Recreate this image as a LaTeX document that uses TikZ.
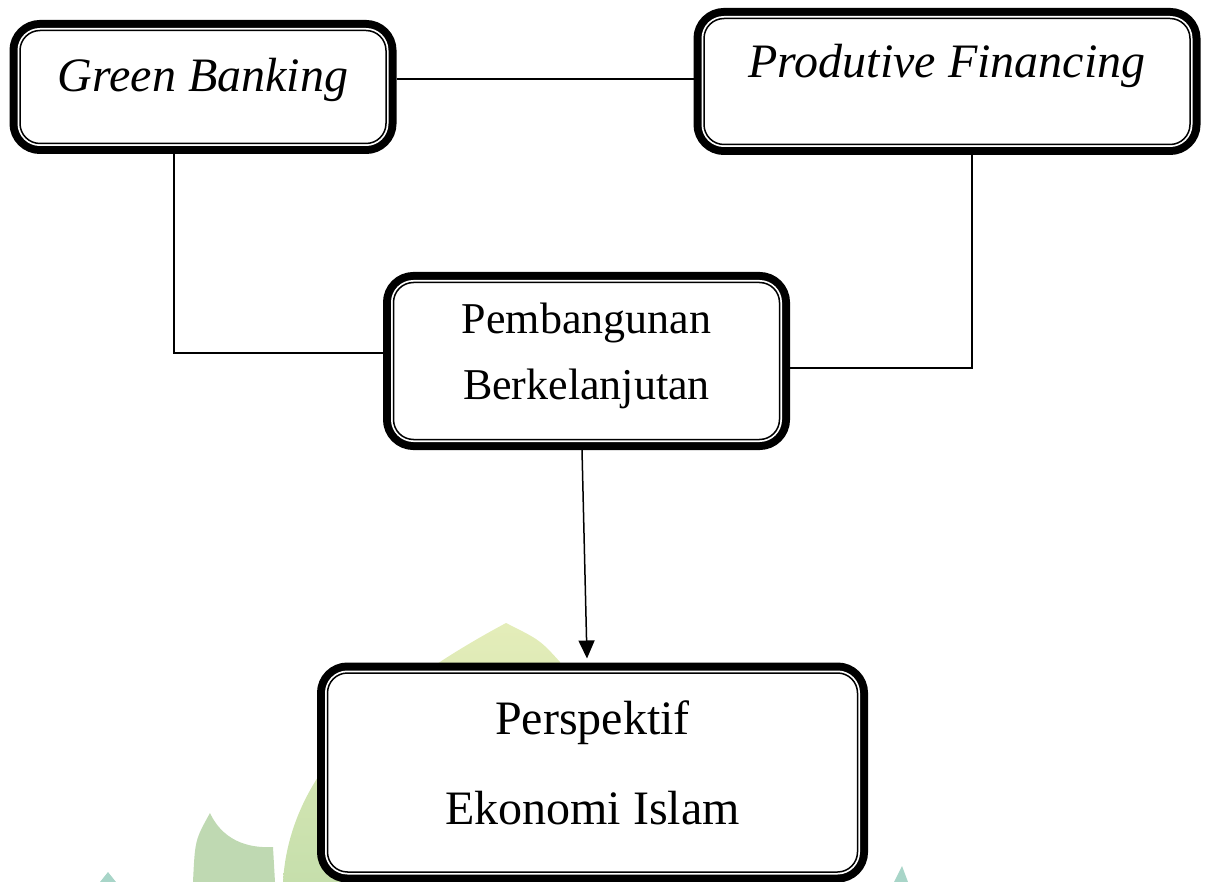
\documentclass[tikz,border=0pt]{standalone}
\usepackage{fontspec}
\setmainfont{Liberation Serif}
\usetikzlibrary{arrows.meta,positioning,calc}

\definecolor{leafyellow}{HTML}{E4EDB9}
\definecolor{leafgreen}{HTML}{C6DFAC}
\definecolor{leafmid}{HTML}{BFD9B2}
\definecolor{leafteal}{HTML}{A8D5C8}

% extra depth under the last line of a box
\newcommand{\lowdepth}[1]{\rule[-#1]{0pt}{1pt}}

\begin{document}
\begin{tikzpicture}[
  x=0.5pt, y=-0.5pt,
  frame/.style={draw, rounded corners=10pt, line width=0.75pt, inner sep=0pt, outer sep=5.25pt, align=center,
    preaction={draw, line width=10.5pt},
    preaction={fill=white},
    preaction={draw=white, line width=2.5pt}},
  topfont/.style={font=\fontsize{24}{29}\selectfont\itshape},
  link/.style={line width=0.75pt},
  arrow/.style={link, -{Triangle[length=9pt, width=8pt]}}
]
\useasboundingbox (0,0) rectangle (1211,882);

% faint watermark behind the boxes
\shade[top color=leafyellow, bottom color=leafgreen] (506,623) .. controls (400,680) and (290,760) .. (283,882) -- (560,882) -- (560,662) .. controls (540,640) .. (506,623) -- cycle;
\fill[leafmid] (210,813) .. controls (225,845) and (255,848) .. (273,847) -- (275,882) -- (193,882) .. controls (195,840) .. (210,813) -- cycle;
\fill[leafteal] (108,872) -- (116,882) -- (100,882) -- cycle;
\fill[leafteal] (902,866) -- (908,882) -- (894,882) -- cycle;

\node[frame, topfont, minimum width=183pt, minimum height=56.5pt, text height=16.5pt, text depth=11.5pt] (green) at (203,87) {Green Banking};
\node[frame, topfont, minimum width=243pt, minimum height=63pt, text height=16.5pt, text depth=20pt] (produktif) at (947,81.5) {Produtive Financing};
\node[frame, font=\fontsize{22}{33}\selectfont, minimum width=193pt, minimum height=78.5pt] (pembangunan) at (586.5,361) {Pembangunan\\Berkelanjutan\lowdepth{10pt}};
\node[frame, font=\fontsize{24}{45}\selectfont, minimum width=265pt, minimum height=99.5pt] (perspektif) at (592.5,772.5) {Perspektif\\Ekonomi Islam\lowdepth{10pt}};

\draw[link] ([yshift=4pt]green.east) -- ([yshift=1.25pt]produktif.west);
\draw[link] ([xshift=-14.5pt]green.south) |- ([yshift=4pt]pembangunan.west);
\draw[link] ([xshift=12.5pt]produktif.south) |- ([yshift=-3.5pt]pembangunan.east);
\draw[arrow] ([xshift=-2.25pt]pembangunan.south) -- ([xshift=-2.75pt,yshift=2pt]perspektif.north);
\end{tikzpicture}
\end{document}
